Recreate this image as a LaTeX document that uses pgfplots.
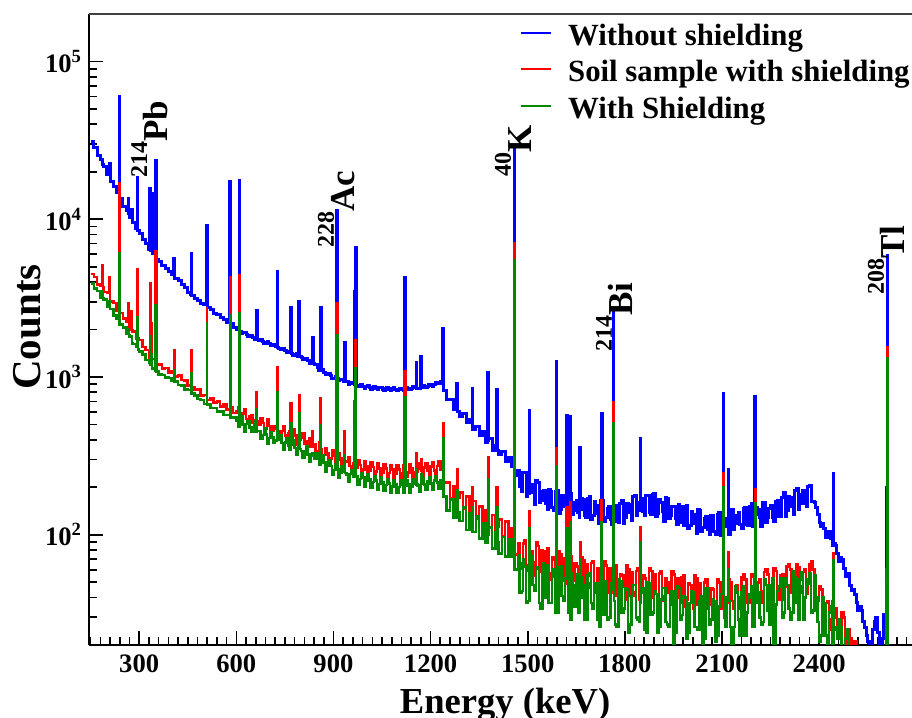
\documentclass[border=0pt]{standalone}
\usepackage{fontspec}
\setmainfont{Liberation Serif}
\usepackage{pgfplots}
\usepackage{pgfplotstable}
\pgfplotsset{compat=1.18}
\definecolor{rblue}{RGB}{0,0,255}
\definecolor{rred}{RGB}{255,0,0}
\definecolor{rgreen}{RGB}{0,136,0}

\pgfplotstableread{
E B R G
150 31000 4500 3900
160 28300 4300 3650
170 25500 3850 3500
180 23800 3800 3200
186 22500 5100 3500
188 22300 3700 3150
190 21600 3450 3100
200 19100 3400 2800
209 22700 4300 3000
210 17400 3000 2700
220 16200 2950 2450
230 14700 2650 2350
238 60000 16900 6100
240 13500 2550 2150
250 12100 2350 2060
260 11300 2250 1880
266 13600 2950 2000
268 10900 2100 1850
270 10300 2000 1800
276 11500 2600 1800
278 9800 1980 1640
280 9550 1950 1620
290 8750 1750 1560
294 18500 4800 2400
296 8450 1760 1500
300 8150 1720 1450
310 7450 1550 1390
320 7050 1480 1280
330 6450 1320 1240
333 15600 3940 1800
335 6300 1310 1200
338 14500 2200 1400
340 6100 1300 1130
350 5580 1180 1090
351 23700 6300 2860
353 5550 1190 1080
360 5380 1200 1040
370 5080 1130 1030
380 4880 1140 990
390 4630 1070 985
400 4470 1080 945
407 5600 1480 1100
409 4300 1030 940
410 4240 1010 935
420 4070 1020 890
430 3830 955 880
440 3670 950 835
450 3440 885 825
460 3320 890 780
461 6100 1480 1060
463 3280 860 785
470 3140 825 765
480 3070 830 725
490 2940 765 715
500 2860 770 675
509 9100 2740 2190
510 2740 715 670
520 2670 735 635
530 2540 690 635
540 2490 700 605
550 2390 650 605
560 2310 670 575
570 2210 620 575
580 17300 4300 2450
582 2170 640 550
590 2070 590 555
600 1990 610 525
605 2000 640 485
609 17700 4400 2540
610 1930 565 528
615 1880 520 565
620 1910 585 500
625 1920 627 450
630 1850 540 502
635 1800 510 527
640 1830 560 475
645 1836 568 447
650 1770 515 478
655 1727 472 521
660 1750 535 452
662 2650 800 620
664 1730 520 455
670 1705 495 455
675 1729 547 407
680 1690 512 430
685 1632 446 475
690 1645 470 433
695 1668 538 380
700 1625 490 410
705 1573 438 446
710 1585 455 415
715 1607 490 382
720 1565 472 396
726 4650 1160 800
728 1540 450 398
730 1525 440 400
735 1485 406 430
740 1505 455 382
745 1515 490 346
750 1465 425 385
755 1426 401 406
760 1445 440 368
765 1457 450 348
768 2750 680 510
770 1410 410 371
775 1374 466 398
780 1395 425 354
785 1403 373 320
790 1355 396 356
793 3000 770 590
795 1345 400 350
800 1335 412 340
805 1290 442 306
810 1295 380 340
815 1308 358 364
820 1270 392 322
825 1223 409 290
830 1225 360 322
835 1790 450 330
837 1215 365 318
840 1195 372 304
845 1193 330 328
850 1145 340 304
855 1107 386 278
860 2760 730 495
862 1120 350 290
865 1112 302 317
870 1075 320 288
875 1034 355 252
880 1035 330 272
885 1049 294 295
890 1020 303 273
895 982 345 241
900 985 315 257
905 1002 275 281
910 11400 2950 1850
912 980 300 258
915 946 327 229
920 960 305 248
925 967 272 270
930 935 282 251
934 1650 450 320
936 935 290 246
940 930 294 240
945 902 310 218
950 910 272 243
955 926 255 257
960 905 285 232
964 3500 700 500
966 895 270 234
968 6600 1710 1130
970 885 265 236
975 867 297 209
980 885 276 226
985 892 245 246
990 865 258 230
995 849 290 203
1000 866 270 221
1005 877 240 241
1010 852 254 225
1015 839 286 199
1020 860 268 216
1025 869 238 235
1030 844 251 220
1035 831 283 194
1040 852 264 210
1045 863 235 230
1050 838 248 215
1055 826 279 190
1060 848 262 207
1065 858 233 226
1070 835 246 211
1075 821 277 186
1080 843 259 203
1085 852 231 222
1090 828 244 209
1095 816 275 185
1100 838 258 201
1105 850 230 221
1110 830 244 208
1115 819 276 185
1120 4280 1090 740
1122 835 250 205
1125 857 232 222
1130 846 246 209
1135 827 278 185
1140 840 262 203
1145 865 234 224
1150 856 248 211
1155 1230 330 260
1157 850 252 208
1160 850 264 205
1165 842 282 188
1170 1340 300 240
1172 860 255 210
1175 882 237 228
1180 874 267 208
1185 854 285 192
1190 868 253 217
1195 895 240 232
1200 886 270 212
1205 870 288 194
1210 890 256 220
1215 923 242 234
1220 922 272 214
1225 910 290 196
1230 935 258 221
1238 2040 510 410
1240 820 215 175
1250 720 215 142
1260 725 170 167
1270 624 202 128
1280 645 160 158
1281 915 260 190
1283 600 172 138
1290 560 185 122
1300 588 146 149
1310 514 175 107
1320 536 138 137
1329 845 200 150
1330 466 164 104
1340 488 126 130
1350 423 151 95
1360 450 118 119
1370 385 143 89
1377 1070 310 225
1379 395 125 100
1380 408 111 111
1390 343 133 82
1400 368 104 103
1404 830 200 150
1406 340 113 90
1410 322 125 76
1420 336 98 97
1430 290 121 73
1440 307 93 93
1450 271 110 73
1458 28700 7070 5520
1460 236 75 60
1470 255 88 74
1475 201 66 43
1480 187 61 44
1485 249 88 70
1490 248 92 63
1495 176 59 37
1500 183 64 38
1505 615 140 110
1507 200 70 50
1510 208 78 73
1515 184 67 48
1520 156 55 44
1525 220 90 61
1530 215 85 62
1535 159 58 37
1540 166 80 34
1545 187 60 66
1550 190 55 55
1555 158 79 40
1560 144 82 64
1565 193 52 37
1570 188 57 37
1575 148 72 60
1580 142 69 54
1585 188 59 32
1589 1245 355 270
1590 192 49 32
1595 137 79 62
1600 145 75 63
1605 177 51 41
1610 170 71 38
1615 150 53 53
1620 570 150 110
1622 130 49 55
1626 183 71 32
1630 560 160 120
1632 182 73 29
1636 135 47 57
1640 143 51 48
1645 161 66 35
1650 165 63 56
1655 138 53 32
1660 128 44 34
1661 355 90 70
1663 145 50 40
1666 170 72 54
1670 168 69 48
1675 132 47 29
1680 128 65 29
1685 170 49 55
1690 175 46 57
1695 124 66 37
1700 132 68 34
1705 162 43 47
1710 154 48 49
1715 136 61 29
1720 117 58 26
1724 166 49 52
1728 590 165 120
1730 165 42 43
1735 122 68 31
1740 129 64 51
1745 146 43 29
1750 150 61 30
1755 125 46 49
1760 116 43 45
1764 2550 690 510
1766 135 50 38
1770 153 64 27
1775 121 41 26
1780 119 44 52
1785 157 56 51
1790 165 55 32
1795 118 47 34
1800 129 39 46
1805 157 64 45
1810 156 60 24
1815 138 41 27
1820 123 58 41
1825 174 43 48
1830 177 41 48
1835 132 59 30
1840 143 61 29
1844 161 39 28
1847 410 112 90
1849 155 48 37
1850 170 43 43
1855 141 55 46
1860 133 53 25
1865 177 45 24
1870 177 38 50
1875 139 61 49
1880 135 59 31
1885 179 40 32
1890 183 56 44
1895 130 42 42
1900 137 40 24
1905 167 57 26
1910 159 59 39
1915 141 38 46
1920 121 41 46
1925 172 53 28
1930 169 50 27
1935 126 43 26
1940 132 36 40
1945 150 59 44
1950 152 56 19
1955 127 38 24
1960 116 53 47
1965 155 40 46
1970 151 37 29
1975 119 54 31
1980 114 55 41
1985 150 35 40
1990 153 39 22
1995 109 49 24
2000 115 48 37
2005 141 41 44
2010 134 34 43
2015 118 55 26
2020 102 53 26
2025 144 36 25
2030 142 49 38
2035 105 37 41
2040 111 35 17
2045 126 50 22
2050 130 52 46
2055 108 34 45
2060 100 36 27
2065 133 46 29
2070 133 45 39
2075 105 38 38
2080 101 32 21
2085 135 52 23
2090 139 50 35
2095 99 34 42
2100 106 48 42
2104 790 245 200
2106 115 40 30
2110 127 35 26
2114 113 37 40
2119 260 77 60
2120 100 52 38
2125 142 50 26
2130 145 38 18
2135 108 34 26
2140 117 47 47
2145 132 48 43
2150 139 34 29
2155 116 40 23
2160 110 54 43
2165 147 56 47
2170 148 52 23
2175 116 37 32
2180 114 37 40
2185 152 40 42
2190 158 56 47
2195 113 54 26
2200 122 41 29
2202 750 193 159
2204 135 45 37
2207 149 37 48
2210 144 50 43
2215 128 52 30
2220 112 37 27
2225 159 44 28
2230 160 58 52
2235 119 60 48
2240 129 56 33
2245 146 40 27
2250 153 40 48
2255 128 42 53
2260 122 61 18
2265 162 59 36
2270 166 43 44
2275 130 39 47
2280 131 55 53
2285 173 56 30
2290 184 39 32
2295 131 47 53
2300 143 63 48
2305 175 65 34
2310 172 60 29
2315 152 43 32
2320 135 43 59
2325 191 46 54
2330 195 65 37
2335 144 62 29
2340 158 47 52
2345 179 43 58
2350 190 58 29
2355 158 60 40
2360 151 42 48
2365 202 49 52
2370 206 65 57
2375 162 68 32
2380 163 60 33
2385 160 43 55
2390 148 36 40
2395 135 38 28
2400 119 47 21
2405 113 45 23
2410 118 32 40
2415 110 29 36
2420 96 37 23
2425 104 38 18
2430 105 25 32
2435 95 29 35
2440 86 38 17
2444 245 76 69
2446 88 30 25
2450 85 34 26
2455 76 24 22
2460 68 23 29
2465 72 24 26
2470 70 32 16
2475 61 30 14
2480 54 22 22
2485 56 20 25
2490 57 25 12
2495 48 22 13
2500 44 15 12
2505 45 18 12
2510 42 21 11
2515 37 13 10
2520 33 15 10
2525 35 14 10
2530 33 14 10
2535 28 12 10
2540 26 12 10
2545 23 11 10
2550 21 11 10
2555 19 11 10
2560 18 11 10
2565 25 11 10
2570 28 11 10
2575 30 11 10
2580 24 11 10
2585 19 11 10
2590 17 11 10
2595 22 11 10
2600 31 11 10
2608 200 60 50
2610 5900 1550 1320
2612 12 11 10
2620 12 10 9
2690 12 10 9
}\spec

\begin{document}
\begin{tikzpicture}
\begin{axis}[
  name=ax,
  at={(44.5pt,36.5pt)}, anchor=south west,
  scale only axis, width=412pt, height=315.5pt,
  xmin=145, xmax=2690, ymin=20, ymax=200000,
  ymode=log,
  axis x line*=bottom, axis y line*=left,
  axis line style={line width=1pt, black},
  tick align=inside,
  xtick={300,600,900,1200,1500,1800,2100,2400},
  xticklabels={300,600,900,1200,1500,1800,2100,2400},
  minor xtick={150,180,...,2690},
  ytick={100,1000,10000,100000},
  yticklabels={10\textsuperscript{2},10\textsuperscript{3},10\textsuperscript{4},10\textsuperscript{5}},
  minor ytick={20,30,40,50,60,70,80,90,200,300,400,500,600,700,800,900,2000,3000,4000,5000,6000,7000,8000,9000,20000,30000,40000,50000,60000,70000,80000,90000,200000},
  major tick length=7pt, minor tick length=4pt,
  every tick/.style={black, line width=0.8pt},
  ticklabel style={font=\bfseries\fontsize{13.3}{15}\selectfont},
  xticklabel style={yshift=-1.5pt},
  xlabel={Energy (keV)}, ylabel={Counts},
  every axis x label/.style={at={(axis description cs:0.505,-0.108)}, anchor=base, font=\bfseries\fontsize{18.3}{20}\selectfont},
  every axis y label/.style={at={(axis description cs:-0.0752,0.504)}, anchor=center, rotate=90, font=\bfseries\fontsize{20.5}{22}\selectfont},
  legend style={at={(axis description cs:0.523,0.986)}, anchor=north west, draw=none, fill=none,
    font=\bfseries\fontsize{15.4}{18}\selectfont, inner sep=0pt, row sep=3.75pt,
    nodes={inner sep=0pt, text height=11pt, text depth=3.5pt},
    /tikz/every odd column/.append style={column sep=8pt}},
  legend cell align=left,
  legend image code/.code={\draw[#1, line width=0.9pt] (0pt,2.5pt) -- (15pt,2.5pt);},
]
\addplot[const plot, draw=rblue, line width=1.5pt] table[x=E,y=B]{\spec};
\addlegendentry{Without shielding}
\addplot[const plot, draw=rred, line width=1.3pt] table[x=E,y=R]{\spec};
\addlegendentry{Soil sample with shielding}
\addplot[const plot, draw=rgreen, line width=1.3pt] table[x=E,y=G]{\spec};
\addlegendentry{With Shielding}

\node[rotate=90, anchor=base west, inner sep=0pt, font=\bfseries\fontsize{17.5}{18}\selectfont] at (axis cs:389,18250) {\raisebox{10.5pt}{\fontsize{12}{12}\selectfont 214}Pb};
\node[rotate=90, anchor=base west, inner sep=0pt, font=\bfseries\fontsize{17.5}{18}\selectfont] at (axis cs:966,6570) {\raisebox{10.5pt}{\fontsize{12}{12}\selectfont 228}Ac};
\node[rotate=90, anchor=base west, inner sep=0pt, font=\bfseries\fontsize{17.5}{18}\selectfont] at (axis cs:1513,18530) {\raisebox{10.5pt}{\fontsize{12}{12}\selectfont 40}K};
\node[rotate=90, anchor=base west, inner sep=0pt, font=\bfseries\fontsize{17.5}{18}\selectfont] at (axis cs:1825,1440) {\raisebox{10.5pt}{\fontsize{12}{12}\selectfont 214}Bi};
\node[rotate=90, anchor=base west, inner sep=0pt, font=\bfseries\fontsize{17.5}{18}\selectfont] at (axis cs:2665,3310) {\raisebox{10.5pt}{\fontsize{12}{12}\selectfont 208}Tl};
\end{axis}
\draw[line width=0.7pt, black!75] (ax.north west) -- (ax.north east);
\pgfresetboundingbox
\useasboundingbox (0,0) rectangle (456pt,359pt);
\end{tikzpicture}
\end{document}
